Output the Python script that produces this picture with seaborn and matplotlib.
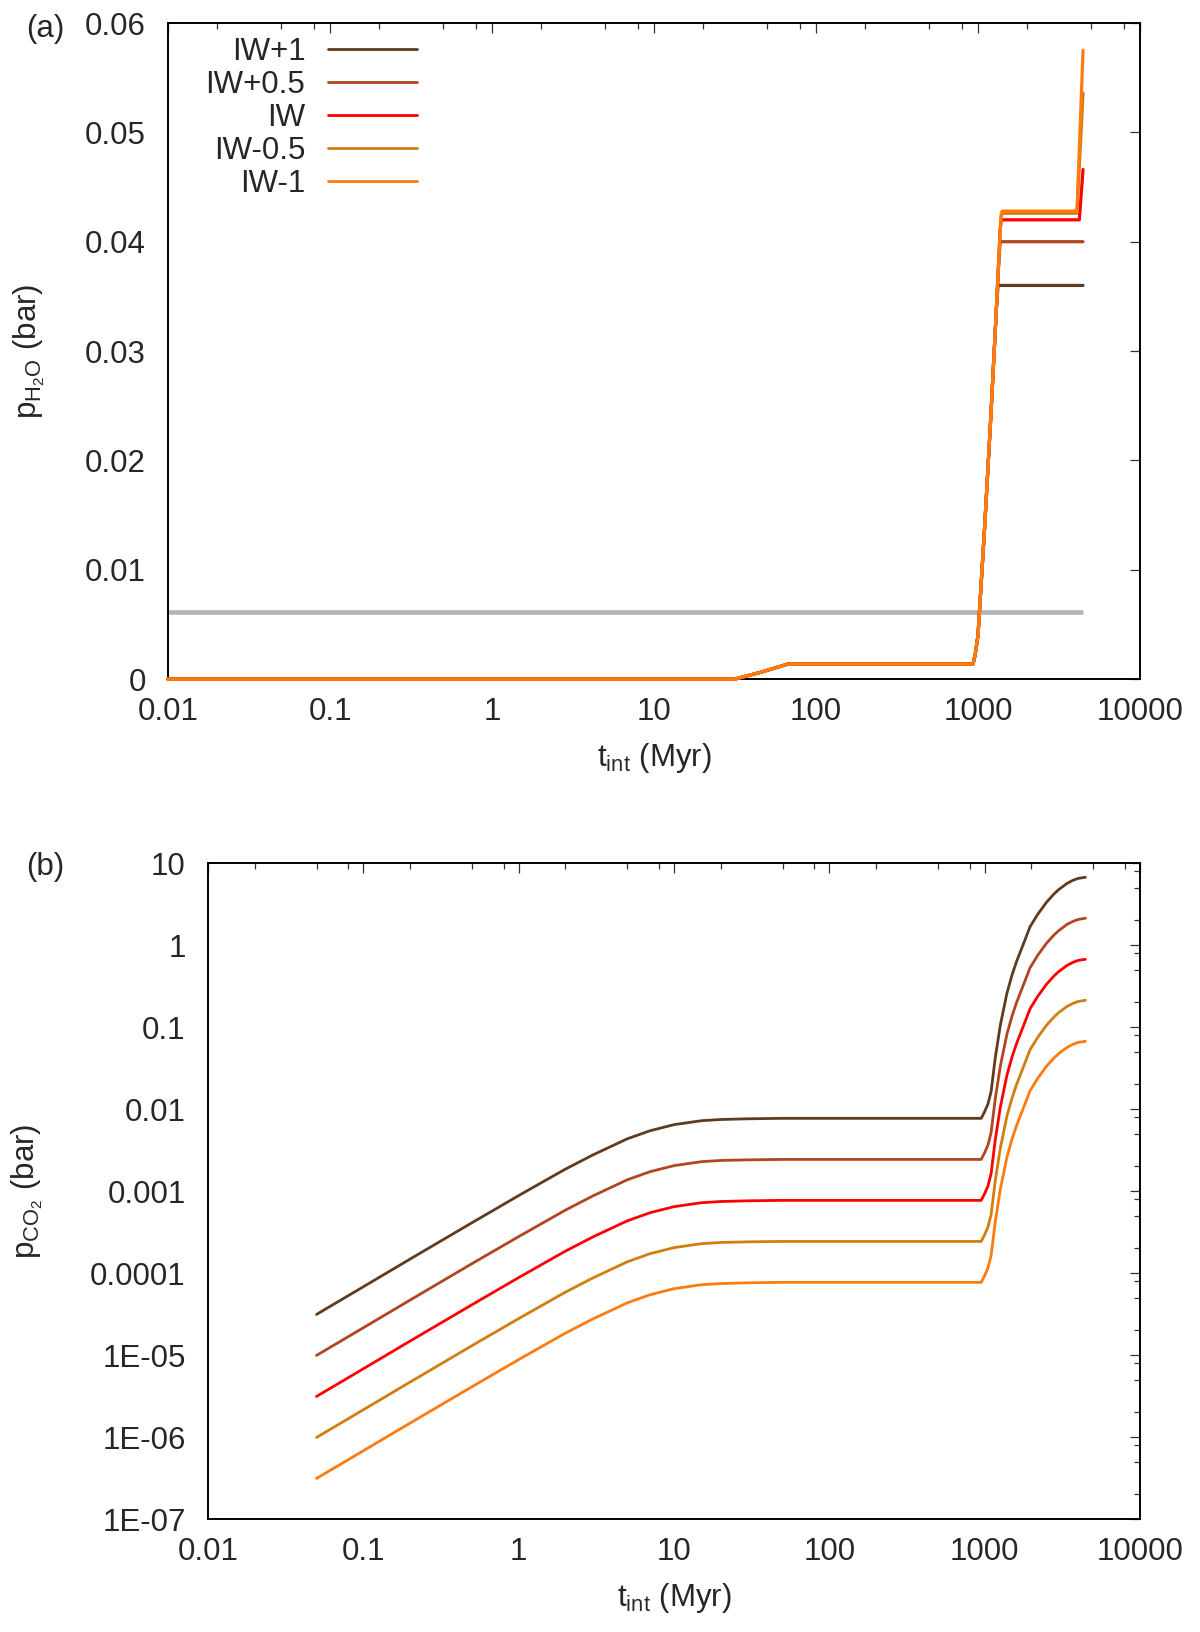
import matplotlib
matplotlib.use('Agg')
import matplotlib.pyplot as plt
import matplotlib.ticker as mticker
import seaborn as sns
import pandas as pd

# ---- data ----
cases = ['IW+1', 'IW+0.5', 'IW', 'IW-0.5', 'IW-1']
colors = ['#5f3b20', '#b0461f', '#ff0000', '#d07f0f', '#ff7b0f']

# (a) water vapour pressure (bar) vs time (Myr)
t_a = [0.01, 31.6, 45, 67, 931, 960, 1000, 1100, 1200, 1300, 1330, 1370, 1390,
       1410, 1420, 4080, 4220, 4450]
h2o_iwp1 = [0, 0, 0.0006, 0.00137, 0.00137, 0.0022, 0.0040, 0.014, 0.024, 0.034,
            0.036, 0.036, 0.036, 0.036, 0.036, 0.036, 0.036, 0.036]
h2o_iwp05 = [0, 0, 0.0006, 0.00137, 0.00137, 0.0022, 0.0040, 0.014, 0.024, 0.034,
             0.037, 0.040, 0.040, 0.040, 0.040, 0.040, 0.040, 0.040]
h2o_iw = [0, 0, 0.0006, 0.00137, 0.00137, 0.0022, 0.0040, 0.014, 0.024, 0.034,
          0.037, 0.041, 0.042, 0.042, 0.042, 0.042, 0.042, 0.0466]
h2o_iwm05 = [0, 0, 0.0006, 0.00137, 0.00137, 0.0022, 0.0040, 0.014, 0.024, 0.034,
             0.037, 0.041, 0.0423, 0.0426, 0.0426, 0.0426, 0.0468, 0.0536]
h2o_iwm1 = [0, 0, 0.0006, 0.00137, 0.00137, 0.0022, 0.0040, 0.014, 0.024, 0.034,
            0.037, 0.041, 0.0425, 0.0428, 0.0428, 0.0428, 0.0484, 0.0575]

# grey reference level (triple point of water)
ref_t = [0.01, 4450]
ref_p = 0.0061

# (b) CO2 pressure (bar) vs time (Myr)
t_b = [0.05, 0.1, 0.2, 0.5, 1, 2, 3, 5, 7, 10,
       15, 20, 30, 50, 100, 300, 950, 1000, 1050, 1100,
       1170, 1260, 1390, 1500, 1600, 1800, 1960, 2200, 2500, 2800,
       3000, 3400, 3700, 4000, 4450]
co2_iwp1 = [3.13e-5, 6.8e-5, 1.48e-4, 4.1e-4, 8.8e-4, 1.85e-3, 2.75e-3, 4.33e-3, 5.43e-3, 6.45e-3,
            7.2e-3, 7.45e-3, 7.6e-3, 7.7e-3, 7.7e-3, 7.7e-3, 7.7e-3, 9.3e-3, 1.15e-2, 1.63e-2,
            4.2e-2, 0.104, 0.257, 0.43, 0.62, 1.10, 1.67, 2.38, 3.32, 4.21,
            4.75, 5.66, 6.15, 6.49, 6.70]
co2_iwp05 = [9.9e-6, 2.15e-5, 4.68e-5, 1.30e-4, 2.78e-4, 5.85e-4, 8.7e-4, 1.37e-3, 1.72e-3, 2.04e-3,
             2.28e-3, 2.36e-3, 2.40e-3, 2.43e-3, 2.43e-3, 2.43e-3, 2.43e-3, 2.94e-3, 3.64e-3, 5.15e-3,
             1.33e-2, 3.29e-2, 8.13e-2, 0.136, 0.196, 0.348, 0.528, 0.753, 1.05, 1.33,
             1.50, 1.79, 1.94, 2.05, 2.12]
co2_iw = [3.13e-6, 6.8e-6, 1.48e-5, 4.1e-5, 8.8e-5, 1.85e-4, 2.75e-4, 4.33e-4, 5.43e-4, 6.45e-4,
          7.2e-4, 7.45e-4, 7.6e-4, 7.7e-4, 7.7e-4, 7.7e-4, 7.7e-4, 9.3e-4, 1.15e-3, 1.63e-3,
          4.2e-3, 1.04e-2, 2.57e-2, 4.3e-2, 6.2e-2, 0.110, 0.167, 0.238, 0.332, 0.421,
          0.475, 0.566, 0.615, 0.649, 0.670]
co2_iwm05 = [9.9e-7, 2.15e-6, 4.68e-6, 1.30e-5, 2.78e-5, 5.85e-5, 8.7e-5, 1.37e-4, 1.72e-4, 2.04e-4,
             2.28e-4, 2.36e-4, 2.40e-4, 2.43e-4, 2.43e-4, 2.43e-4, 2.43e-4, 2.94e-4, 3.64e-4, 5.15e-4,
             1.33e-3, 3.29e-3, 8.13e-3, 1.36e-2, 1.96e-2, 3.48e-2, 5.28e-2, 7.53e-2, 0.105, 0.133,
             0.150, 0.179, 0.194, 0.205, 0.212]
co2_iwm1 = [3.13e-7, 6.8e-7, 1.48e-6, 4.1e-6, 8.8e-6, 1.85e-5, 2.75e-5, 4.33e-5, 5.43e-5, 6.45e-5,
            7.2e-5, 7.45e-5, 7.6e-5, 7.7e-5, 7.7e-5, 7.7e-5, 7.7e-5, 9.3e-5, 1.15e-4, 1.63e-4,
            4.2e-4, 1.04e-3, 2.57e-3, 4.3e-3, 6.2e-3, 1.10e-2, 1.67e-2, 2.38e-2, 3.32e-2, 4.21e-2,
            4.75e-2, 5.66e-2, 6.15e-2, 6.49e-2, 6.70e-2]

x_ticks = [0.01, 0.1, 1, 10, 100, 1000, 10000]
x_ticklabels = ['0.01', '0.1', '1', '10', '100', '1000', '10000']
ya_ticks = [0, 0.01, 0.02, 0.03, 0.04, 0.05, 0.06]
ya_ticklabels = ['0', '0.01', '0.02', '0.03', '0.04', '0.05', '0.06']
yb_ticks = [1e-7, 1e-6, 1e-5, 1e-4, 1e-3, 1e-2, 0.1, 1, 10]
yb_ticklabels = ['1E-07', '1E-06', '1E-05', '0.0001', '0.001', '0.01', '0.1', '1', '10']

# ---- tidy tables ----
df_a = pd.concat([pd.DataFrame({'t': t_a, 'p': v, 'case': c})
                  for c, v in zip(cases, [h2o_iwp1, h2o_iwp05, h2o_iw, h2o_iwm05, h2o_iwm1])])
df_b = pd.concat([pd.DataFrame({'t': t_b, 'p': v, 'case': c})
                  for c, v in zip(cases, [co2_iwp1, co2_iwp05, co2_iw, co2_iwm05, co2_iwm1])])

sns.set_style('white')
plt.rcParams['font.family'] = ['Liberation Sans', 'DejaVu Sans']
plt.rcParams['mathtext.fontset'] = 'custom'
plt.rcParams['mathtext.rm'] = 'Liberation Sans'
plt.rcParams['mathtext.it'] = 'Liberation Sans:italic'
plt.rcParams['axes.linewidth'] = 1.4
plt.rcParams['axes.edgecolor'] = 'black'

FS = 22.5
pal = dict(zip(cases, colors))

fig = plt.figure(figsize=(12, 16.32), dpi=100)
ax_a = fig.add_axes([0.14, 0.5839, 0.81, 0.402])
ax_b = fig.add_axes([0.1733, 0.0692, 0.7767, 0.402])

# ---- panel (a) ----
ax_a.hlines(ref_p, ref_t[0], ref_t[1], color='#b4b4b4', lw=3.3, zorder=1)
sns.lineplot(data=df_a, x='t', y='p', hue='case', hue_order=cases, palette=pal,
             estimator=None, sort=False, lw=2.3, ax=ax_a)
for ln in ax_a.lines:
    ln.set_clip_on(False)
    ln.set_zorder(3)
ax_a.set_xscale('log')
ax_a.set_xlim(0.01, 10000)
ax_a.set_ylim(0, 0.06)
ax_a.set_yticks(ya_ticks)
ax_a.set_yticklabels(ya_ticklabels)
ax_a.set_ylabel(r'$\mathregular{p_{H_2O}}$ (bar)', fontsize=FS)
ax_a.yaxis.set_label_coords(-0.125, 0.5)

sns.move_legend(ax_a, 'upper right', bbox_to_anchor=(0.256, 0.979), title=None,
                frameon=False, markerfirst=False, fontsize=FS, handlelength=2.85,
                handletextpad=0.72, labelspacing=0.1, borderpad=0, borderaxespad=0)
for h in ax_a.get_legend().legend_handles:
    h.set_linewidth(2.0)

# ---- panel (b) ----
sns.lineplot(data=df_b, x='t', y='p', hue='case', hue_order=cases, palette=pal,
             estimator=None, sort=False, lw=2.0, ax=ax_b, legend=False)
ax_b.set_xscale('log')
ax_b.set_yscale('log')
ax_b.set_xlim(0.01, 10000)
ax_b.set_ylim(1e-7, 10)
ax_b.set_yticks(yb_ticks)
ax_b.set_yticklabels(yb_ticklabels)
ax_b.yaxis.set_minor_locator(mticker.LogLocator(base=10, subs=[2, 5, 8], numticks=20))
ax_b.yaxis.set_minor_formatter(mticker.NullFormatter())
ax_b.set_ylabel(r'$\mathregular{p_{CO_2}}$ (bar)', fontsize=FS)
ax_b.yaxis.set_label_coords(-0.175, 0.5)

for ax in (ax_a, ax_b):
    ax.set_xticks(x_ticks)
    ax.set_xticklabels(x_ticklabels)
    ax.xaxis.set_minor_locator(mticker.LogLocator(base=10, subs=[2, 5, 8], numticks=20))
    ax.xaxis.set_minor_formatter(mticker.NullFormatter())
    ax.set_xlabel(r'$\mathregular{t_{int}}$ (Myr)', fontsize=FS)
    ax.xaxis.set_label_coords(0.5, -0.095)
    ax.xaxis.label.set_va('top')
    ax.tick_params(which='both', direction='in', top=True, right=True,
                   labelsize=FS, color='#333333', width=0.9)
    ax.tick_params(which='major', length=7.5)
    ax.tick_params(which='minor', length=4)
    ax.tick_params(axis='y', which='both', pad=16)
    ax.tick_params(axis='x', which='both', pad=13)
    for s in ax.spines.values():
        s.set_visible(True)
        s.set_linewidth(1.4)
        s.set_color('black')

fig.text(0.022, 0.982, '(a)', fontsize=FS, ha='left', va='center')
fig.text(0.022, 0.4688, '(b)', fontsize=FS, ha='left', va='center')

fig.savefig('out.png', dpi=100)
